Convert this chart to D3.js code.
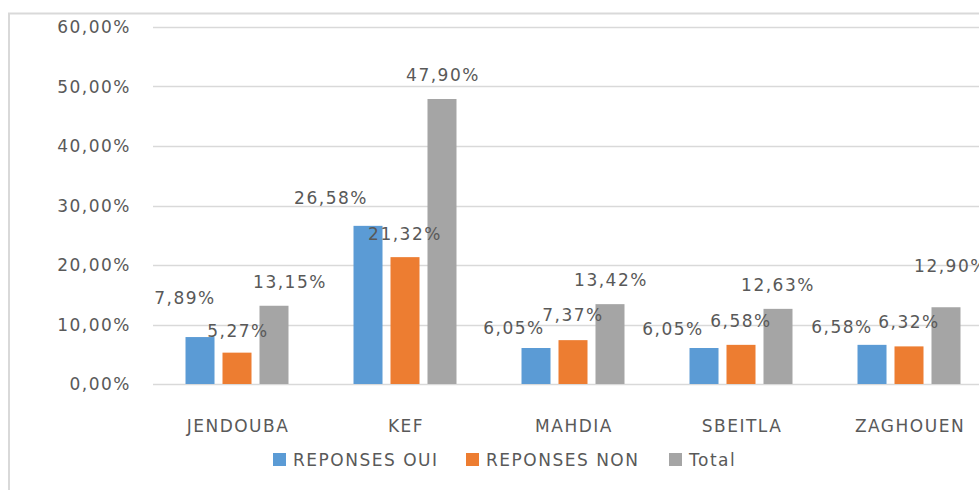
<!DOCTYPE html>
<html>
<head>
<meta charset="utf-8">
<script src="https://cdn.jsdelivr.net/npm/d3@7"></script>
<style>
  html, body { margin: 0; padding: 0; background: #fff; }
  svg text { font-family: "DejaVu Sans", sans-serif; fill: #595959; letter-spacing: 1.5px; }
</style>
</head>
<body>
<svg id="chart" width="979" height="490"></svg>
<script>
// ---- data ----
const categories = ["JENDOUBA", "KEF", "MAHDIA", "SBEITLA", "ZAGHOUEN"];
const seriesNames = ["REPONSES OUI", "REPONSES NON", "Total"];
const reponsesOui = [7.89, 26.58, 6.05, 6.05, 6.58];
const reponsesNon = [5.27, 21.32, 7.37, 6.58, 6.32];
const total = [13.15, 47.90, 13.42, 12.63, 12.90];
const yTicks = [0, 10, 20, 30, 40, 50, 60];

// ---- layout / style (not data) ----
const colors = ["#5B9BD5", "#ED7D31", "#A5A5A5"];
// manual label placement: [dx from bar centre, baseline gap above bar top]
const labelNudge = [
  [[-15, 33], [1, 16], [16, 18]],
  [[-37, 22], [0, 17], [1, 18]],
  [[-22, 14], [0, 19], [1, 18]],
  [[-31, 13], [0, 18], [0, 18]],
  [[-30, 12], [0, 18], [5, 35]]
];

const series = [reponsesOui, reponsesNon, total];
const svg = d3.select("#chart");

// frame
svg.append("path")
  .attr("d", "M9,490 V13.5 H979")
  .attr("fill", "none").attr("stroke", "#D9D9D9").attr("stroke-width", 2);

const x0 = d3.scaleBand().domain(categories).range([153, 993])
  .paddingInner(0.387).paddingOuter(0.1935);
const x1 = d3.scaleBand().domain(d3.range(3)).range([0, x0.bandwidth()]).paddingInner(0.216);
const y = d3.scaleLinear().domain([0, 60]).range([384, 27]);

const fmt = v => v.toFixed(2).replace(".", ",") + "%";

// gridlines
svg.append("g").selectAll("line").data(yTicks).join("line")
  .attr("x1", 153).attr("x2", 979)
  .attr("y1", d => Math.round(y(d)) + 0.5).attr("y2", d => Math.round(y(d)) + 0.5)
  .attr("stroke", "#D9D9D9").attr("stroke-width", 1.5);

// y tick labels
svg.append("g").selectAll("text").data(yTicks).join("text")
  .attr("x", 131).attr("y", d => y(d) + 6)
  .attr("text-anchor", "end").attr("font-size", 17)
  .text(d => d.toFixed(2).replace(".", ",") + "%");

// bars
const groups = svg.append("g").selectAll("g").data(categories).join("g")
  .attr("transform", d => `translate(${x0(d)},0)`);

groups.selectAll("rect").data((c, i) => series.map((s, k) => ({k, v: s[i]}))).join("rect")
  .attr("x", d => x1(d.k)).attr("width", x1.bandwidth())
  .attr("y", d => y(d.v)).attr("height", d => y(0) - y(d.v))
  .attr("fill", d => colors[d.k]);

// data labels
groups.each(function(c, i) {
  d3.select(this).selectAll("text").data(series.map((s, k) => ({k, v: s[i]}))).join("text")
    .attr("x", d => x1(d.k) + x1.bandwidth() / 2 + labelNudge[i][d.k][0])
    .attr("y", d => y(d.v) - labelNudge[i][d.k][1])
    .attr("text-anchor", "middle").attr("font-size", 17)
    .text(d => fmt(d.v));
});

// category labels
svg.append("g").selectAll("text").data(categories).join("text")
  .attr("x", d => x0(d) + x0.bandwidth() / 2 + 1).attr("y", 432)
  .attr("text-anchor", "middle").attr("font-size", 17)
  .text(d => d);

// legend
const legendX = [273, 466, 669];
const leg = svg.append("g").selectAll("g").data(seriesNames).join("g")
  .attr("transform", (d, i) => `translate(${legendX[i]},453)`);
leg.append("rect").attr("width", 13).attr("height", 13).attr("fill", (d, i) => colors[i]);
leg.append("text").attr("x", 20).attr("y", 13).attr("font-size", 17).text(d => d);
</script>
</body>
</html>
